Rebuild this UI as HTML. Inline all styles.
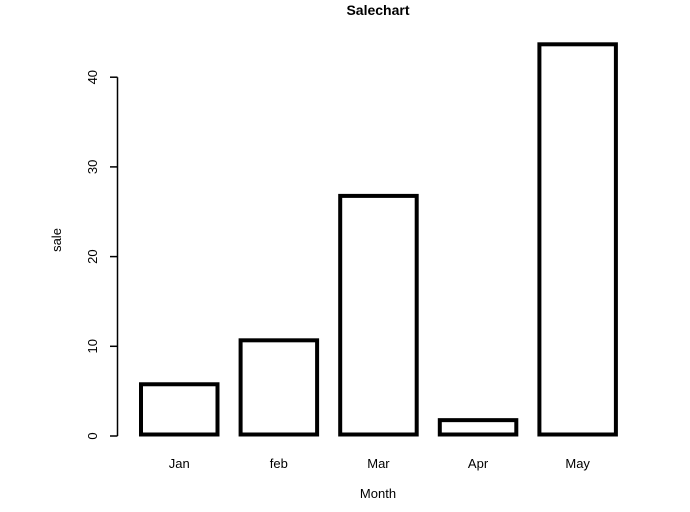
<!DOCTYPE html>
<html><head><meta charset="utf-8"><style>
html,body{margin:0;padding:0;background:#fff;}
svg text{font-family:"Liberation Sans",sans-serif;fill:#000;}
</style></head><body>
<svg id="chart" width="690" height="507" viewBox="0 0 690 507">
<text x="378" y="15" text-anchor="middle" font-size="14" font-weight="bold">Salechart</text>
<g id="yaxis"></g>
<g id="bars"></g>
<g id="xlabels"></g>
<text x="378" y="498" text-anchor="middle" font-size="13">Month</text>
<text transform="translate(61,240) rotate(-90)" text-anchor="middle" font-size="13">sale</text>
</svg>
<script>
const categories = ["Jan","feb","Mar","Apr","May"];
const sales = [5.6, 10.5, 26.6, 1.6, 43.5];
const yTicks = [0, 10, 20, 30, 40];

const NS = "http://www.w3.org/2000/svg";
const base = 434.5, scale = 8.97;
function y(v){ return base - v*scale; }
function xLeft(i){ return 141 + i*99.6; }
const bw = 76.5;

const ya = document.getElementById('yaxis');
const axisLine = document.createElementNS(NS,'line');
axisLine.setAttribute('x1',117.5);axisLine.setAttribute('x2',117.5);
axisLine.setAttribute('y1',y(yTicks[0])+1.5);axisLine.setAttribute('y2',y(yTicks[yTicks.length-1])+1.5);
axisLine.setAttribute('stroke','#000');axisLine.setAttribute('stroke-width','1.5');


ya.appendChild(axisLine);
yTicks.forEach(t=>{
  const yy = y(t)+1.5;
  const tk = document.createElementNS(NS,'line');
  tk.setAttribute('x1',110);tk.setAttribute('x2',117.5);
  tk.setAttribute('y1',yy);tk.setAttribute('y2',yy);
  tk.setAttribute('stroke','#000');tk.setAttribute('stroke-width','1.5');
  
  
  ya.appendChild(tk);
  const lb = document.createElementNS(NS,'text');
  lb.setAttribute('transform','translate(97,'+yy+') rotate(-90)');
  lb.setAttribute('text-anchor','middle');lb.setAttribute('font-size','13');
  lb.textContent = t;
  
  
  ya.appendChild(lb);
});

const bg = document.getElementById('bars');
const xl = document.getElementById('xlabels');
categories.forEach((c,i)=>{
  const r = document.createElementNS(NS,'rect');
  const top = y(sales[i]);
  r.setAttribute('x',xLeft(i));r.setAttribute('y',top);
  r.setAttribute('width',bw);r.setAttribute('height',base-top);
  r.setAttribute('fill','#fff');r.setAttribute('stroke','#000');r.setAttribute('stroke-width','4');
  
  
  bg.appendChild(r);
  const t = document.createElementNS(NS,'text');
  t.setAttribute('x',xLeft(i)+bw/2);t.setAttribute('y',468);
  t.setAttribute('text-anchor','middle');t.setAttribute('font-size','13');
  t.textContent = c;
  
  
  xl.appendChild(t);
});
</script>
</body></html>
